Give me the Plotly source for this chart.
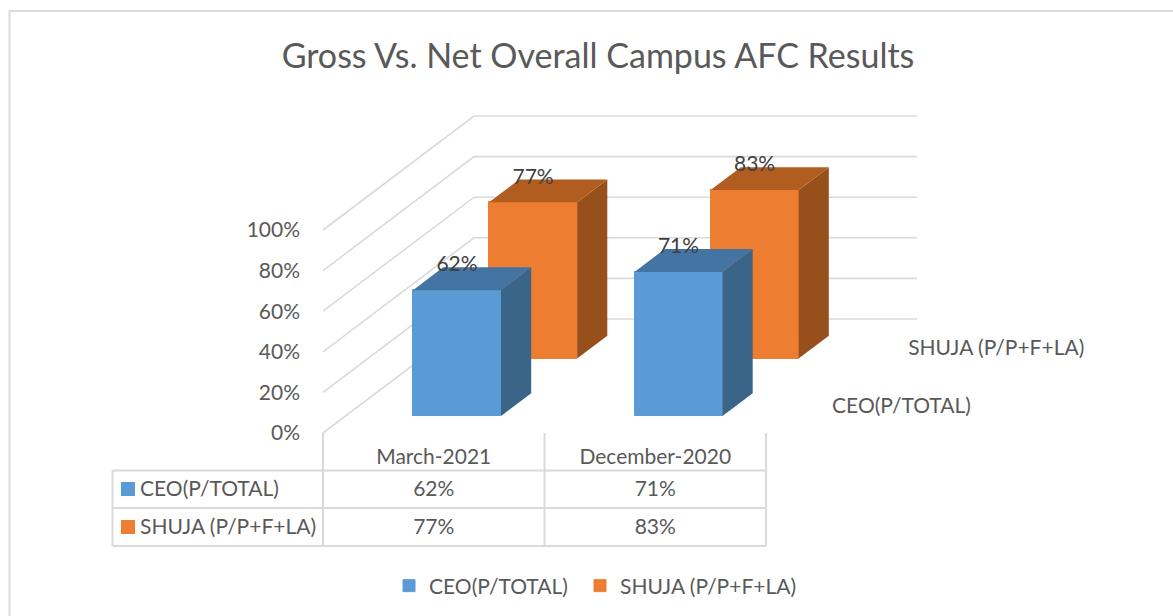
import plotly.graph_objects as go

# ---- data ----
categories = ["March-2021", "December-2020"]
series_names = ["CEO(P/TOTAL)", "SHUJA (P/P+F+LA)"]
ceo_values = [62, 71]
shuja_values = [77, 83]
tick_values = [0, 20, 40, 60, 80, 100]
tick_labels = ["0%", "20%", "40%", "60%", "80%", "100%"]
title_text = "Gross Vs. Net Overall Campus AFC Results"

# ---- page geometry / projection ----
W, H = 1173, 616
FX, FY = 323.0, 433.0      # pixel of category origin, 0 %
PX_PER_CAT = 221.5
PX_PER_PCT = 2.03
DEPTH_PX_X, DEPTH_PX_Y = 151.0, 114.0
DX = DEPTH_PX_X / PX_PER_CAT      # depth -> category units
DY = DEPTH_PX_Y / PX_PER_PCT      # depth -> percent units
BAR_W = 88.0 / PX_PER_CAT
BAR_OFF = 67.5 / PX_PER_CAT
BAR_DEPTH = 0.2
DEPTHS = [0.149, 0.653]

def xu(px):  # pixel -> category units
    return (px - FX) / PX_PER_CAT
def yu(py):  # pixel -> percent units
    return (FY - py) / PX_PER_PCT

GRID = "#dadada"
TXT = "#595959"
FONT = "Lato"
LBL = 21

fig = go.Figure()

# walls
gx, gy = [], []
for v in tick_values:
    gx += [0, DX, DX + 2, None]
    gy += [v, v + DY, v + DY, None]
fig.add_trace(go.Scatter(x=gx, y=gy, mode="lines", line=dict(color=GRID, width=1.6),
                         showlegend=False, hoverinfo="skip", zorder=0))

# 3-D bars
styles = [
    dict(front="#5B9BD5", side="#3A6589", top="#4475A2"),
    dict(front="#ED7D31", side="#97501C", top="#B25D20"),
]
legend_ids = ["legend", "legend2"]
for s, vals in [(1, shuja_values), (0, ceo_values)]:
    d = DEPTHS[s]
    st = styles[s]
    z = 2 if s == 0 else 1
    ox, oy = DX * d, DY * d
    xs = [i + BAR_OFF + BAR_W / 2 + ox for i in range(len(categories))]
    fig.add_trace(go.Bar(x=xs, y=vals, base=[oy] * len(vals), width=BAR_W, name=series_names[s],
                         marker=dict(color=st["front"], line=dict(width=1, color=st["front"])),
                         zorder=z, legend=legend_ids[s]))
    ddx, ddy = DX * BAR_DEPTH, DY * BAR_DEPTH
    for i, v in enumerate(vals):
        l = i + BAR_OFF + ox
        r = l + BAR_W
        fig.add_trace(go.Scatter(x=[r, r + ddx, r + ddx, r, r],
                                 y=[oy, oy + ddy, oy + ddy + v, oy + v, oy],
                                 mode="lines", fill="toself", fillcolor=st["side"],
                                 line=dict(width=0), showlegend=False, hoverinfo="skip", zorder=z))
        fig.add_trace(go.Scatter(x=[l, l + ddx, r + ddx, r, l],
                                 y=[oy + v, oy + v + ddy, oy + v + ddy, oy + v, oy + v],
                                 mode="lines", fill="toself", fillcolor=st["top"],
                                 line=dict(width=0), showlegend=False, hoverinfo="skip", zorder=z))

# data labels
for s, vals in enumerate([ceo_values, shuja_values]):
    d = DEPTHS[s]
    fig.add_trace(go.Scatter(
        x=[i + BAR_OFF + BAR_W / 2 + DX * d for i in range(len(vals))],
        y=[v + DY * d + 24 / PX_PER_PCT for v in vals],
        text=[f"{v}%" for v in vals], mode="text", textposition="middle center",
        textfont=dict(family=FONT, size=LBL, color="#404040"),
        showlegend=False, hoverinfo="skip", zorder=3))

# depth-axis labels
depth_lab = [d + BAR_DEPTH / 2 for d in DEPTHS]
fig.add_trace(go.Scatter(
    x=[2 + DX * d + xu(FX + 28.5) for d in depth_lab],
    y=[DY * d - 3 / PX_PER_PCT for d in depth_lab],
    text=series_names, mode="text", textposition="middle right",
    textfont=dict(family=FONT, size=LBL, color=TXT),
    showlegend=False, hoverinfo="skip", zorder=0))

# data table grid
TL, TR = 112.5, 766.0
ROWS = [470.5, 508.0, 546.0]
tx, ty = [], []
for r in ROWS:
    tx += [xu(TL), xu(TR), None]
    ty += [yu(r), yu(r), None]
for i in range(3):
    tx += [i, i, None]
    ty += [0, yu(ROWS[-1]), None]
tx += [xu(TL), xu(TL), None]
ty += [yu(ROWS[0]), yu(ROWS[-1]), None]
fig.add_trace(go.Scatter(x=tx, y=ty, mode="lines", line=dict(color=GRID, width=2),
                         showlegend=False, hoverinfo="skip", zorder=0))

# table cells
ROW_Y = [489.0, 527.0]
TEXT_DROP = 2.0
for s, vals in enumerate([ceo_values, shuja_values]):
    fig.add_trace(go.Scatter(
        x=[i + 0.5 for i in range(len(vals))], y=[yu(ROW_Y[s] + TEXT_DROP)] * len(vals),
        text=[f"{v}%" for v in vals], mode="text", textposition="middle center",
        textfont=dict(family=FONT, size=LBL, color=TXT),
        showlegend=False, hoverinfo="skip", zorder=0))
    fig.add_trace(go.Scatter(
        x=[xu(128)], y=[yu(ROW_Y[s])], mode="markers",
        marker=dict(symbol="square", size=14, color=styles[s]["front"], line=dict(width=0)),
        showlegend=False, hoverinfo="skip", zorder=0))
    fig.add_trace(go.Scatter(
        x=[xu(140)], y=[yu(ROW_Y[s] + TEXT_DROP)], text=[series_names[s]], mode="text",
        textposition="middle right",
        textfont=dict(family=FONT, size=LBL, color=TXT),
        showlegend=False, hoverinfo="skip", zorder=0))

# outer frame (open towards the right and bottom page edges)
fig.add_shape(type="path", xref="paper", yref="paper",
              path=f"M {9.5 / W} -0.1 L {9.5 / W} {1 - 11 / H} L 1.1 {1 - 11 / H}",
              line=dict(color="#dcdcdc", width=2), layer="below")

legend_style = dict(orientation="h", xanchor="left", y=1 - 586 / H, yanchor="middle",
                    font=dict(family=FONT, size=LBL, color=TXT), bgcolor="rgba(0,0,0,0)")

fig.update_layout(
    width=W, height=H, autosize=False,
    margin=dict(l=0, r=0, t=0, b=0),
    paper_bgcolor="white", plot_bgcolor="white",
    barmode="overlay", bargap=0,
    font=dict(family=FONT, size=LBL, color=TXT),
    title=dict(text=title_text, x=598 / W, xanchor="center", y=1 - 56 / H, yanchor="middle",
               font=dict(family=FONT, size=34, color=TXT)),
    xaxis=dict(range=[xu(0), xu(W)], domain=[0, 1], showgrid=False, zeroline=False, showline=False,
               tickmode="array", tickvals=[0.5, 1.5], ticktext=categories,
               anchor="free", position=1 - 442 / H, ticks="", ticklen=0,
               tickfont=dict(family=FONT, size=LBL, color=TXT), fixedrange=True),
    yaxis=dict(range=[yu(H), yu(0)], domain=[0, 1], showgrid=False, zeroline=False, showline=False,
               tickmode="array", tickvals=tick_values, ticktext=tick_labels,
               anchor="free", position=300 / W, ticks="", ticklen=0,
               tickfont=dict(family=FONT, size=LBL, color=TXT), fixedrange=True),
    showlegend=True,
    legend=dict(x=389 / W, **legend_style),
    legend2=dict(x=580 / W, **legend_style),
)
fig.write_html("out.html", config=dict(displayModeBar=False),
               post_script="document.body.style.margin='0';")
